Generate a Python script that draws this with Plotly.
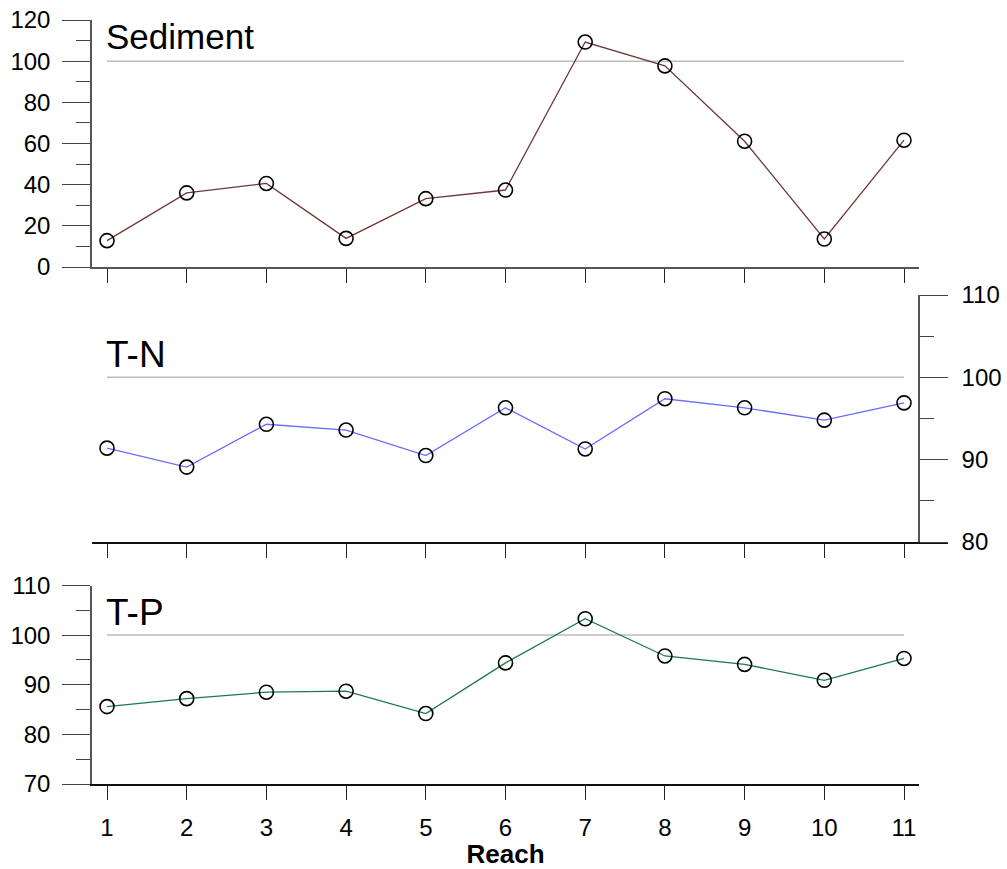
import plotly.graph_objects as go

# ---- data ----
reach = [1, 2, 3, 4, 5, 6, 7, 8, 9, 10, 11]
sediment = [12.8, 36.0, 40.6, 13.9, 33.2, 37.4, 109.3, 97.7, 61.1, 13.6, 61.6]
t_n = [91.4, 89.1, 94.3, 93.6, 90.5, 96.3, 91.3, 97.4, 96.3, 94.8, 96.9]
t_p = [85.6, 87.2, 88.5, 88.7, 84.2, 94.4, 103.3, 95.8, 94.1, 90.9, 95.3]
ref_level = 100
panel_titles = ["Sediment", "T-N", "T-P"]
x_title = "Reach"

# ---- layout helpers (page pixels -> paper) ----
W, H = 1007, 869
def px(v):
    return v / W
def py(v):
    return 1 - v / H

FONT = "Liberation Sans, Arial, sans-serif"
k = (904 - 107) / 10.0  # px per unit
x_lo = 1 - (107 - 92) / k
x_hi = 1 + (919 - 107) / k
x2_hi = 1 + (948 - 107) / k

colors = ["#6E3838", "#6B6BFF", "#1B7A48"]

fig = go.Figure()

series = [(sediment, "x", "y"), (t_n, "x2", "y2"), (t_p, "x3", "y3")]
for (vals, xa, ya), col in zip(series, colors):
    # reference line at 100
    fig.add_trace(go.Scatter(x=[reach[0], reach[-1]], y=[ref_level, ref_level],
                             mode="lines", line=dict(color="#BDBDBD", width=1.5),
                             xaxis=xa, yaxis=ya, hoverinfo="skip", showlegend=False))
    fig.add_trace(go.Scatter(x=reach, y=vals, mode="lines+markers",
                             line=dict(color=col, width=1.3),
                             marker=dict(symbol="circle-open", size=14, color="black",
                                         line=dict(width=1.6, color="black")),
                             xaxis=xa, yaxis=ya, showlegend=False))

common_x = dict(tickvals=reach, showgrid=False, zeroline=False, showline=True,
                ticklen=14, tickwidth=1.2, tickcolor="#222", automargin=False)
overlay_x = dict(ticks="inside", showticklabels=False, tickvals=reach, showgrid=False,
                 zeroline=False, showline=False, ticklen=14, tickwidth=1.2,
                 tickcolor="#222", automargin=False)
common_y = dict(showgrid=False, zeroline=False, showline=True, ticks="outside",
                ticklen=28, tickwidth=1.2, tickcolor="#444", linecolor="#555", linewidth=1.5,
                automargin=False, ticklabeloverflow="allow",
                tickfont=dict(family=FONT, size=24, color="black"))

fig.update_layout(
    width=W, height=H, margin=dict(l=0, r=0, t=0, b=0, autoexpand=False),
    paper_bgcolor="white", plot_bgcolor="white",
    font=dict(family=FONT, color="black"),
    xaxis=dict(domain=[px(92), px(919)], range=[x_lo, x_hi], anchor="y",
               ticks="outside", showticklabels=False, linecolor="#555", linewidth=1.5, **common_x),
    xaxis4=dict(overlaying="x", anchor="y", range=[x_lo, x_hi], **overlay_x),
    yaxis=dict(domain=[py(267), py(20)], range=[0, 120], anchor="x",
               tickvals=[0, 20, 40, 60, 80, 100, 120],
               minor=dict(ticks="outside", ticklen=14, tickvals=[10, 30, 50, 70, 90, 110],
                          tickcolor="#444", tickwidth=1.2),
               ticklabelstandoff=7, **common_y),
    xaxis2=dict(domain=[px(92), px(948)], range=[x_lo, x2_hi], anchor="y2",
                ticks="outside", showticklabels=False, linecolor="#111", linewidth=1.5, **common_x),
    xaxis5=dict(overlaying="x2", anchor="y2", range=[x_lo, x2_hi], **overlay_x),
    yaxis2=dict(domain=[py(542), py(295)], range=[80, 110], anchor="free",
                position=px(919), side="right", tickvals=[80, 90, 100, 110],
                minor=dict(ticks="outside", ticklen=14, tickvals=[85, 95, 105],
                           tickcolor="#444", tickwidth=1.2),
                ticklabelstandoff=9, **common_y),
    xaxis3=dict(domain=[px(92), px(919)], range=[x_lo, x_hi], anchor="y3",
                ticks="outside", showticklabels=True, linecolor="#111", linewidth=1.5,
                ticklabelstandoff=7, ticklabeloverflow="allow",
                tickfont=dict(family=FONT, size=24, color="black"),
                title=dict(text="<b>" + x_title + "</b>", font=dict(family=FONT, size=26, color="black"),
                           standoff=5),
                **common_x),
    xaxis6=dict(overlaying="x3", anchor="y3", range=[x_lo, x_hi], **overlay_x),
    yaxis3=dict(domain=[py(784), py(585.5)], range=[70, 110], anchor="x3",
                tickvals=[70, 80, 90, 100, 110],
                minor=dict(ticks="outside", ticklen=14, tickvals=[75, 85, 95, 105],
                           tickcolor="#444", tickwidth=1.2),
                ticklabelstandoff=7, **common_y),
)

title_pos = [37, 354, 612]
title_sizes = [35, 37, 37]
for t, yy, fs in zip(panel_titles, title_pos, title_sizes):
    fig.add_annotation(text=t, xref="paper", yref="paper", x=px(104), y=py(yy),
                       xanchor="left", yanchor="middle", showarrow=False,
                       font=dict(family=FONT, size=fs, color="black"))

fig.write_html("out.html", config={"displayModeBar": False},
               post_script="document.documentElement.style.overflow='hidden';"
                           "document.body.style.overflow='hidden';"
                           "document.body.style.margin='0';")
